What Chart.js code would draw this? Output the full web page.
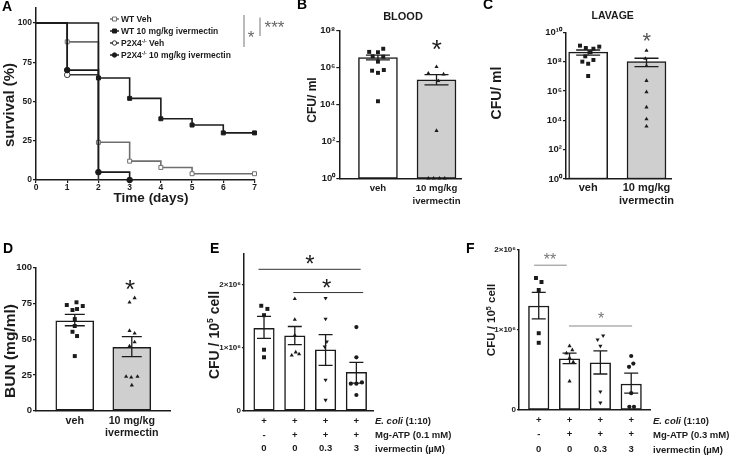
<!DOCTYPE html>
<html>
<head>
<meta charset="utf-8">
<script src="https://cdn.jsdelivr.net/npm/chart.js@4/dist/chart.umd.min.js"></script>
<style>
  html, body { margin: 0; padding: 0; background: #fff; }
  #wrap { position: relative; width: 730px; height: 456px; overflow: hidden; background: #fff; }
  #wrap canvas { position: absolute; left: 0; top: 0; }
</style>
</head>
<body>
<div id="wrap">
  <canvas id="cA" width="730" height="456"></canvas>
  <canvas id="cB" width="730" height="456"></canvas>
  <canvas id="cC" width="730" height="456"></canvas>
  <canvas id="cD" width="730" height="456"></canvas>
  <canvas id="cE" width="730" height="456"></canvas>
  <canvas id="cF" width="730" height="456"></canvas>
</div>
<script>
// ---------- data ----------

// A: survival curves (days, % survival)
const wtVehDays = [0, 1, 2, 3, 4, 5, 7];
const wtVehSurv = [100, 88, 24, 12, 8, 4, 4];
const wtIverDays = [0, 2, 3, 4, 5, 6, 7];
const wtIverSurv = [100, 65, 52, 39, 35, 30, 30];
const koVehDays = [0, 1, 2];
const koVehSurv = [100, 67, 0];
const koIverDays = [0, 1, 2, 3];
const koIverSurv = [100, 70, 5, 0];
const dayTicks = [0, 1, 2, 3, 4, 5, 6, 7];
const survTicks = [0, 25, 50, 75, 100];
const legendNamesA = [
    [['WT Veh', '']],
    [['WT 10 mg/kg ivermectin', '']],
    [['P2X4', ''], ['-/-', 'sup'], [' Veh', '']],
    [['P2X4', ''], ['-/-', 'sup'], [' 10 mg/kg ivermectin', '']]
];

// B, C, D: two groups
const groupLabels = ['veh', ['10 mg/kg', 'ivermectin']];

const bloodMean = [3.5e6, 2.2e5];
const bloodHi = [4.8e6, 4.2e5];
const bloodLo = [2.6e6, 1.15e5];
const bloodVeh = [1.05e7, 7.1e6, 6.8e6, 4.1e6, 3.9e6, 2.1e6, 6.8e5, 7.4e5, 5.2e5, 1.5e4];
const bloodVehDx = [0.09, -0.15, 0.0, -0.09, 0.09, 0.0, -0.1, 0.1, 0.0, 0.0];
const bloodIver = [1.1e6, 4.9e5, 4.4e5, 1.9e5, 380, 1, 1, 1, 1];
const bloodIverDx = [0, -0.14, 0.12, 0.03, 0, -0.14, -0.05, 0.05, 0.14];
const bloodTicks = [1, 1e2, 1e4, 1e6, 1e8];

const lavageMean = [4.4e8, 1.0e8];
const lavageHi = [6.2e8, 1.7e8];
const lavageLo = [2.8e8, 4.6e7];
const lavageVeh = [1.23e9, 8.5e8, 7.6e8, 1.05e9, 4.4e8, 2.3e8, 1.0e8, 7.2e7, 1.3e8, 1.05e7];
const lavageVehDx = [-0.14, -0.04, 0.09, 0.19, 0.04, -0.05, -0.1, 0, 0.09, 0];
const lavageIver = [5.6e8, 1.6e8, 5.2e7, 5.0e6, 8.5e5, 7.8e4, 1.2e4, 3.9e3];
const lavageIverDx = [0, -0.02, 0, 0, 0, 0, 0, 0];
const lavageTicks = [1, 1e2, 1e4, 1e6, 1e8, 1e10];

const bunMean = [62.9, 44.3];
const bunHi = [67.4, 51.8];
const bunLo = [59.4, 37.8];
const bunVeh = [73.9, 75.8, 73.2, 70.4, 71.1, 64.1, 59.2, 55.2, 52.2, 38.2];
const bunVehDx = [-0.14, 0.03, 0.14, -0.04, 0.04, 0, 0, -0.04, 0.04, 0];
const bunIver = [75.8, 78.8, 55.9, 54.1, 48.0, 45.2, 23.8, 23.3, 23.8, 17.8];
const bunIverDx = [-0.04, 0.05, -0.04, 0.05, 0.05, -0.04, -0.1, -0.01, 0.1, 0];
const bunTicks = [0, 25, 50, 75, 100];

// E, F: four conditions
const ecoliRow = ['+', '+', '+', '+'];
const atpRow = ['-', '+', '+', '+'];
const iverRow = ['0', '0', '0.3', '3'];
const cellTicksE = [0, 1e6, 2e6];
const cellTicksF = [0, 1e6, 2e6];

const cfuEMean = [1.31e6, 1.19e6, 0.97e6, 0.61e6];
const cfuEHi = [1.50e6, 1.34e6, 1.21e6, 0.77e6];
const cfuELo = [1.15e6, 1.05e6, 0.72e6, 0.44e6];
const cfuEPts = [
    [1.67e6, 1.62e6, 1.52e6, 0.97e6, 0.85e6],
    [1.78e6, 1.45e6, 1.20e6, 0.88e6, 0.93e6, 0.90e6],
    [1.79e6, 1.46e6, 1.10e6, 1.02e6, 0.49e6, 0.17e6],
    [1.33e6, 0.85e6, 0.43e6, 0.43e6, 0.45e6, 0.25e6]
];
const cfuEDx = [
    [-0.09, 0.11, 0, 0, 0],
    [0, 0, 0, -0.1, 0.03, 0.14],
    [0, 0, 0.04, -0.03, 0, 0],
    [0, 0, -0.18, 0, 0.18, 0]
];

const cfuFMean = [1.30e6, 0.64e6, 0.59e6, 0.325e6];
const cfuFHi = [1.47e6, 0.71e6, 0.74e6, 0.46e6];
const cfuFLo = [1.14e6, 0.58e6, 0.45e6, 0.21e6];
const cfuFPts = [
    [1.65e6, 1.60e6, 1.50e6, 0.96e6, 0.84e6],
    [0.80e6, 0.75e6, 0.71e6, 0.65e6, 0.60e6, 0.36e6],
    [0.93e6, 0.88e6, 0.80e6, 0.23e6, 0.09e6],
    [0.675e6, 0.58e6, 0.54e6, 0.21e6, 0.04e6, 0.04e6]
];
const cfuFDx = [
    [-0.09, 0.09, 0, 0, 0],
    [0, 0.09, -0.1, 0, 0.12, 0],
    [0.09, -0.09, 0, 0, 0],
    [0, 0.07, -0.07, 0, -0.06, 0.09]
];

// ---------- helpers ----------
const W = 730, H = 456;
const FF = '"Liberation Sans", Arial, Helvetica, sans-serif';
const INK = '#1b1b1b';
const SUP = { '0': '⁰', '1': '¹', '2': '²', '3': '³', '4': '⁴', '5': '⁵', '6': '⁶', '7': '⁷', '8': '⁸', '9': '⁹', '-': '⁻' };
const sup = s => String(s).split('').map(c => SUP[c] || c).join('');
const fmtLog = v => '10' + sup(Math.round(Math.log10(v)));
const fmtSci = v => v === 0 ? '0' : Math.round(v / 1e6) + '×10' + sup(6);

// place the plot area at fixed page pixels
function pad(a, yw, xh) {
    return { left: a.l - yw, top: a.t, right: W - a.r, bottom: H - a.b - xh };
}

// mixed text: parts = [[text, ''|'sup'|'it']], y is the baseline
function rich(ctx, parts, x, y, size, align) {
    const fonts = parts.map(p => (p[1] === 'it' ? 'italic ' : '') + 'bold ' + (p[1] === 'sup' ? size * 0.62 : size) + 'px ' + FF);
    let total = 0;
    const widths = parts.map((p, i) => { ctx.font = fonts[i]; const w = ctx.measureText(p[0]).width; total += w; return w; });
    let cx = align === 'center' ? x - total / 2 : (align === 'right' ? x - total : x);
    ctx.textAlign = 'left';
    ctx.textBaseline = 'alphabetic';
    parts.forEach((p, i) => {
        ctx.font = fonts[i];
        ctx.fillText(p[0], cx, p[1] === 'sup' ? y - size * 0.4 : y);
        cx += widths[i];
    });
}

// vertical axis title centred on (cx, cy)
function vTitle(ctx, parts, cx, cy, size) {
    ctx.save();
    ctx.translate(cx, cy);
    ctx.rotate(-Math.PI / 2);
    ctx.fillStyle = INK;
    rich(ctx, parts, 0, size * 0.36, size, 'center');
    ctx.restore();
}

function star(ctx, txt, cx, cy, size, color) {
    ctx.font = size + 'px ' + FF;
    ctx.fillStyle = color || INK;
    ctx.textAlign = 'center';
    ctx.textBaseline = 'alphabetic';
    ctx.fillText(txt, cx, cy + size * 0.58);
}

function letter(ctx, txt, x, y) {
    ctx.font = 'bold 14px ' + FF;
    ctx.fillStyle = '#000';
    ctx.textAlign = 'left';
    ctx.textBaseline = 'alphabetic';
    ctx.fillText(txt, x, y);
}

function errorBars(chart, o) {
    const { ctx, scales: { x, y } } = chart;
    ctx.save();
    ctx.strokeStyle = INK;
    ctx.lineWidth = 1.3;
    o.mean.forEach((m, i) => {
        const px = x.getPixelForValue(i);
        const pHi = y.getPixelForValue(o.hi[i]);
        const pLo = y.getPixelForValue(o.lo[i]);
        ctx.beginPath();
        ctx.moveTo(px, pHi); ctx.lineTo(px, pLo);
        ctx.moveTo(px - o.cap, pHi); ctx.lineTo(px + o.cap, pHi);
        ctx.moveTo(px - o.cap, pLo); ctx.lineTo(px + o.cap, pLo);
        ctx.stroke();
    });
    ctx.restore();
}

// significance bar drawn in data units
function sigLine(chart, x0, x1, yv, color) {
    const { ctx, scales: { x, y } } = chart;
    ctx.save();
    ctx.strokeStyle = color;
    ctx.lineWidth = 1;
    ctx.beginPath();
    ctx.moveTo(x.getPixelForValue(x0), y.getPixelForValue(yv));
    ctx.lineTo(x.getPixelForValue(x1), y.getPixelForValue(yv));
    ctx.stroke();
    ctx.restore();
}

function barPanel(id, o) {
    const datasets = [{
        type: 'bar', order: 3,
        data: o.mean.map((v, i) => ({ x: i, y: v })),
        backgroundColor: o.fill, borderColor: INK, borderWidth: 1.5, borderSkipped: false,
        barThickness: o.barW
    }];
    o.groups.forEach((g, i) => datasets.push({
        type: 'scatter', order: 1, clip: false,
        data: g.vals.map((v, k) => ({ x: i + g.dx[k], y: v })),
        pointStyle: g.style, pointRotation: g.rot || 0, pointRadius: g.r,
        backgroundColor: INK, borderColor: INK, borderWidth: 0
    }));
    const yScale = {
        type: o.yType, min: o.ymin, max: o.ymax,
        border: { color: INK, width: 1.5 },
        grid: { drawOnChartArea: false, color: INK, tickLength: o.yTick, lineWidth: 1.2 },
        afterBuildTicks: s => { s.ticks = o.yTicks.map(v => ({ value: v })); },
        afterFit: s => { s.width = o.yw; },
        ticks: { color: INK, padding: 1, autoSkip: false, font: { family: FF, weight: 'bold', size: o.yFont }, callback: o.yFmt }
    };
    return new Chart(document.getElementById(id), {
        type: 'bar',
        data: { datasets },
        options: {
            responsive: false, animation: false, events: [],
            layout: { padding: pad(o.area, o.yw, o.xh) },
            plugins: { legend: { display: false }, tooltip: { enabled: false } },
            scales: {
                x: {
                    type: 'linear', min: o.xmin, max: o.xmax, offset: false,
                    border: { color: INK, width: 1.5 },
                    grid: { drawOnChartArea: false, drawTicks: false, offset: false },
                    afterBuildTicks: s => { s.ticks = o.mean.map((v, i) => ({ value: i })); },
                    afterFit: s => { s.height = o.xh; },
                    ticks: {
                        color: INK, padding: o.xPad, autoSkip: false, maxRotation: 0,
                        font: { family: FF, weight: 'bold', size: o.xFont, lineHeight: o.xLine },
                        callback: v => o.xLabel(v)
                    }
                },
                y: yScale
            }
        },
        plugins: [{
            id: 'deco',
            afterDatasetsDraw: c => errorBars(c, o),
            afterDraw: c => { c.ctx.save(); o.deco(c, c.ctx); c.ctx.restore(); }
        }]
    });
}

// ---------- A: survival ----------
function kmSet(days, surv, color, style, open, order, hideLast) {
    return {
        data: days.map((d, i) => ({ x: d, y: surv[i] })),
        stepped: 'before', borderColor: color, borderWidth: 1.6, fill: false, clip: false, order,
        pointStyle: style,
        pointRadius: c => (c.dataIndex === 0 || (hideLast && c.dataIndex === days.length - 1)) ? 0 : 2.8,
        pointBackgroundColor: open ? '#fff' : color, pointBorderColor: color, pointBorderWidth: 1
    };
}

new Chart(document.getElementById('cA'), {
    type: 'line',
    data: {
        datasets: [
            kmSet(wtVehDays, wtVehSurv, '#6e6e6e', 'rect', true, 4, false),
            kmSet(wtIverDays, wtIverSurv, '#1b1b1b', 'rect', false, 1, false),
            kmSet(koVehDays, koVehSurv, '#333333', 'circle', true, 3, true),
            kmSet(koIverDays, koIverSurv, '#1b1b1b', 'circle', false, 2, false)
        ]
    },
    options: {
        responsive: false, animation: false, events: [],
        layout: { padding: pad({ l: 36, t: 7.3, r: 254.5, b: 180 }, 30, 20) },
        plugins: { legend: { display: false }, tooltip: { enabled: false } },
        scales: {
            x: {
                type: 'linear', min: 0, max: 7,
                border: { color: INK, width: 1.5 },
                grid: { drawOnChartArea: false, color: INK, tickLength: 3, lineWidth: 1.2 },
                afterBuildTicks: s => { s.ticks = dayTicks.map(v => ({ value: v })); },
                afterFit: s => { s.height = 20; },
                ticks: { color: INK, padding: 0, font: { family: FF, weight: 'bold', size: 8.5, lineHeight: 1 } }
            },
            y: {
                type: 'linear', min: 0, max: 110,
                border: { color: INK, width: 1.5 },
                grid: { drawOnChartArea: false, color: INK, tickLength: 3, lineWidth: 1.2 },
                afterBuildTicks: s => { s.ticks = survTicks.map(v => ({ value: v })); },
                afterFit: s => { s.width = 30; },
                ticks: { color: INK, padding: 1, font: { family: FF, weight: 'bold', size: 8.5 } }
            }
        }
    },
    plugins: [{
        id: 'decoA',
        afterDraw: chart => {
            const ctx = chart.ctx;
            ctx.save();
            letter(ctx, 'A', 2, 11);
            vTitle(ctx, [['survival (%)', '']], 9, 105, 15);
            ctx.fillStyle = INK;
            rich(ctx, [['Time (days)', '']], 151, 202, 13.5, 'center');
            // legend, symbols taken from the datasets
            chart.data.datasets.forEach((ds, i) => {
                const cy = 19 + i * 12;
                ctx.strokeStyle = ds.borderColor;
                ctx.lineWidth = 1.5;
                ctx.beginPath(); ctx.moveTo(110, cy); ctx.lineTo(119, cy); ctx.stroke();
                ctx.beginPath();
                if (ds.pointStyle === 'rect') ctx.rect(112.5, cy - 2, 4, 4);
                else ctx.arc(114.5, cy, 2.2, 0, Math.PI * 2);
                ctx.fillStyle = ds.pointBackgroundColor; ctx.fill();
                ctx.lineWidth = 1; ctx.stroke();
                ctx.fillStyle = INK;
                rich(ctx, legendNamesA[i], 121, cy + 3, 8.5, 'left');
            });
            // log-rank brackets
            ctx.strokeStyle = '#777'; ctx.lineWidth = 1;
            ctx.beginPath(); ctx.moveTo(244, 15); ctx.lineTo(244, 47); ctx.stroke();
            ctx.beginPath(); ctx.moveTo(260, 17.5); ctx.lineTo(260, 36); ctx.stroke();
            star(ctx, '*', 251, 33, 17, '#666');
            star(ctx, '***', 274.5, 23, 17, '#666');
            ctx.restore();
        }
    }]
});

// ---------- B: blood ----------
barPanel('cB', {
    area: { l: 339.3, t: 30.7, r: 461.7, b: 178.3 }, yw: 30, xh: 34,
    xmin: -0.66, xmax: 1.43, barW: 39, fill: ['#ffffff', '#cfcfcf'],
    mean: bloodMean, hi: bloodHi, lo: bloodLo, cap: 12,
    yType: 'logarithmic', ymin: 1, ymax: 1e8, yTicks: bloodTicks, yFmt: fmtLog, yFont: 9.5, yTick: 3,
    xLabel: v => groupLabels[v], xFont: 9.6, xLine: 13 / 9.6, xPad: 4,
    groups: [
        { vals: bloodVeh, dx: bloodVehDx, style: 'rect', r: 2.8 },
        { vals: bloodIver, dx: bloodIverDx, style: 'triangle', r: 2.4 }
    ],
    deco: (c, ctx) => {
        letter(ctx, 'B', 297, 9);
        ctx.fillStyle = INK;
        rich(ctx, [['BLOOD', '']], 403, 19.8, 11, 'center');
        vTitle(ctx, [['CFU/ ml', '']], 312, 100, 12);
        star(ctx, '*', 436.7, 43.3, 26);
    }
});

// ---------- C: lavage ----------
barPanel('cC', {
    area: { l: 566, t: 32.3, r: 671, b: 179 }, yw: 30, xh: 34,
    xmin: -0.38, xmax: 1.42, barW: 39, fill: ['#ffffff', '#cfcfcf'],
    mean: lavageMean, hi: lavageHi, lo: lavageLo, cap: 12,
    yType: 'logarithmic', ymin: 1, ymax: 1e10, yTicks: lavageTicks, yFmt: fmtLog, yFont: 9.5, yTick: 3,
    xLabel: v => groupLabels[v], xFont: 11, xLine: 12.7 / 11, xPad: 3,
    groups: [
        { vals: lavageVeh, dx: lavageVehDx, style: 'rect', r: 2.8 },
        { vals: lavageIver, dx: lavageIverDx, style: 'triangle', r: 2.4 }
    ],
    deco: (c, ctx) => {
        letter(ctx, 'C', 483, 9);
        ctx.fillStyle = INK;
        rich(ctx, [['LAVAGE', '']], 612.7, 19.3, 10.5, 'center');
        vTitle(ctx, [['CFU/ ml', '']], 496, 93, 14);
        star(ctx, '*', 646.7, 35, 22, '#555');
    }
});

// ---------- D: BUN ----------
barPanel('cD', {
    area: { l: 36, t: 267.7, r: 170, b: 410.7 }, yw: 30, xh: 34,
    xmin: -0.68, xmax: 1.67, barW: 38, fill: ['#ffffff', '#cfcfcf'],
    mean: bunMean, hi: bunHi, lo: bunLo, cap: 10,
    yType: 'linear', ymin: 0, ymax: 100, yTicks: bunTicks, yFmt: v => v, yFont: 9.5, yTick: 3,
    xLabel: v => groupLabels[v], xFont: 10.7, xLine: 11.7 / 10.7, xPad: 5,
    groups: [
        { vals: bunVeh, dx: bunVehDx, style: 'rect', r: 2.8 },
        { vals: bunIver, dx: bunIverDx, style: 'triangle', r: 2.4 }
    ],
    deco: (c, ctx) => {
        letter(ctx, 'D', 3, 253);
        vTitle(ctx, [['BUN (mg/ml)', '']], 9, 351, 15.5);
        star(ctx, '*', 130, 283.3, 26);
    }
});

// ---------- E, F: CFU per 10^5 cells ----------
function tableLabels(ctx, chart, o, x, atpText) {
    const lh = o.xFont * o.xLine;
    const y0 = chart.chartArea.bottom + o.xPad + lh / 2;
    const rows = [
        [['E. coli', 'it'], [' (1:10)', '']],
        [[atpText, '']],
        [['ivermectin (µM)', '']]
    ];
    ctx.fillStyle = INK;
    rows.forEach((r, i) => rich(ctx, r, x, y0 + i * lh + o.xFont * 0.35, o.xFont, 'left'));
}

const cellStyles = [
    { style: 'rect', rot: 0, r: 2.8 },
    { style: 'triangle', rot: 0, r: 2.4 },
    { style: 'triangle', rot: 180, r: 2.4 },
    { style: 'circle', rot: 0, r: 2.1 }
];

const optE = {
    area: { l: 244, t: 253.6, r: 373, b: 410.7 }, yw: 30, xh: 45,
    xmin: -0.65, xmax: 3.54, barW: 20.5, fill: '#ffffff',
    mean: cfuEMean, hi: cfuEHi, lo: cfuELo, cap: 7,
    yType: 'linear', ymin: 0, ymax: 2.5e6, yTicks: cellTicksE, yFmt: fmtSci, yFont: 8, yTick: 2,
    xLabel: v => [ecoliRow[v], atpRow[v], iverRow[v]], xFont: 9.5, xLine: 13.8 / 9.5, xPad: 3.5,
    groups: cfuEPts.map((vals, i) => Object.assign({ vals, dx: cfuEDx[i] }, cellStyles[i])),
    deco: (c, ctx) => {
        letter(ctx, 'E', 210, 253);
        vTitle(ctx, [['CFU / 10', ''], ['5', 'sup'], [' cell', '']], 214, 335, 14);
        sigLine(c, -0.18, 3.14, 2.25e6, '#333');
        sigLine(c, 0.95, 3.22, 1.88e6, '#333');
        star(ctx, '*', 310, 258.3, 24);
        star(ctx, '*', 326.7, 281.7, 24);
        tableLabels(ctx, c, optE, 375, 'Mg-ATP (0.1 mM)');
    }
};
barPanel('cE', optE);

const optF = {
    area: { l: 519, t: 250, r: 650, b: 410 }, yw: 30, xh: 45,
    xmin: -0.64, xmax: 3.61, barW: 20.5, fill: '#ffffff',
    mean: cfuFMean, hi: cfuFHi, lo: cfuFLo, cap: 7,
    yType: 'linear', ymin: 0, ymax: 2e6, yTicks: cellTicksF, yFmt: fmtSci, yFont: 8, yTick: 2,
    xLabel: v => [ecoliRow[v], atpRow[v], iverRow[v]], xFont: 9.5, xLine: 14.5 / 9.5, xPad: 3,
    groups: cfuFPts.map((vals, i) => Object.assign({ vals, dx: cfuFDx[i] }, cellStyles[i])),
    deco: (c, ctx) => {
        letter(ctx, 'F', 466, 253);
        vTitle(ctx, [['CFU / 10', ''], ['5', 'sup'], [' cell', '']], 491, 320, 11.5);
        sigLine(c, -0.15, 0.91, 1.81e6, '#888');
        sigLine(c, 0.98, 3.03, 1.05e6, '#888');
        star(ctx, '**', 550, 256, 16, '#777');
        star(ctx, '*', 601, 315, 16, '#777');
        tableLabels(ctx, c, optF, 653, 'Mg-ATP (0.3 mM)');
    }
};
barPanel('cF', optF);
</script>
</body>
</html>
